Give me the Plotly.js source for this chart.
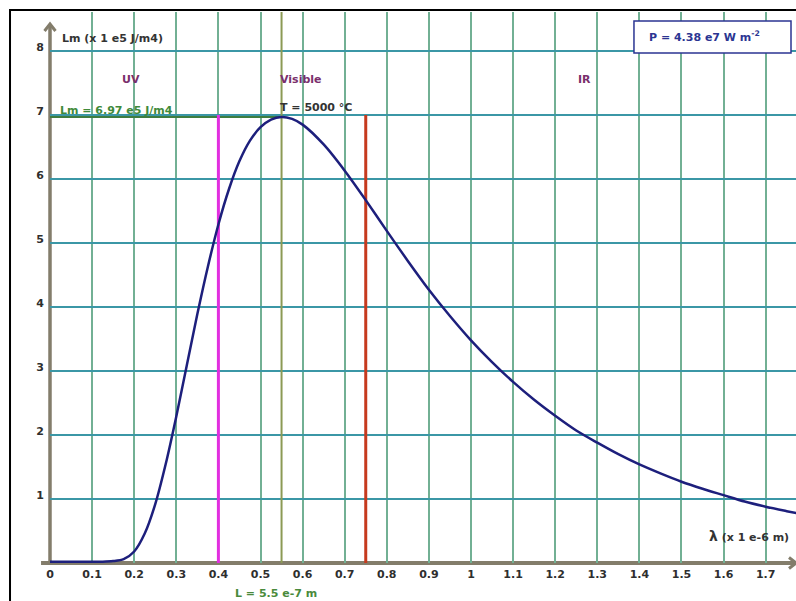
<!DOCTYPE html>
<html>
<head>
<meta charset="utf-8">
<script src="https://cdn.plot.ly/plotly-3.0.1.min.js"></script>
<style>html,body{margin:0;padding:0;background:#fff}#chart{width:796px;height:601px}</style>
</head>
<body>
<div id="chart"></div>
<script>
// Wavelength (x 1e-6 m) and spectral exitance Lm (x 1e5 J/m4)
const wavelength = [0, 0.05, 0.1, 0.125, 0.15, 0.175, 0.2, 0.225, 0.25, 0.275, 0.3, 0.325, 0.35, 0.375, 0.4, 0.425, 0.45, 0.475, 0.5, 0.525, 0.55, 0.575, 0.6, 0.65, 0.7, 0.75, 0.8, 0.85, 0.9, 0.95, 1.0, 1.05, 1.1, 1.15, 1.2, 1.25, 1.3, 1.35, 1.4, 1.45, 1.5, 1.55, 1.6, 1.65, 1.7, 1.75, 1.78];
const radiance   = [0.02, 0.02, 0.02, 0.02, 0.03, 0.06, 0.18, 0.46, 0.92, 1.55, 2.29, 3.09, 3.89, 4.63, 5.29, 5.84, 6.28, 6.60, 6.81, 6.93, 6.97, 6.94, 6.85, 6.54, 6.13, 5.67, 5.19, 4.72, 4.27, 3.86, 3.48, 3.14, 2.83, 2.55, 2.30, 2.07, 1.88, 1.70, 1.54, 1.40, 1.27, 1.16, 1.06, 0.96, 0.88, 0.81, 0.77];

// visible band edges
const bandEdges  = [0.4, 0.75];
const bandColors = ['#e22ee0', '#c63a1e'];
const bandTop    = 7;

// peak
const peakLambda = 0.55;
const peakValue  = 6.97;

// ticks
const xTicks      = [0, 0.1, 0.2, 0.3, 0.4, 0.5, 0.6, 0.7, 0.8, 0.9, 1, 1.1, 1.2, 1.3, 1.4, 1.5, 1.6, 1.7];
const xTickLabels = ['0', '0.1', '0.2', '0.3', '0.4', '0.5', '0.6', '0.7', '0.8', '0.9', '1', '1.1', '1.2', '1.3', '1.4', '1.5', '1.6', '1.7'];
const yTicks      = [1, 2, 3, 4, 5, 6, 7, 8];
const yTickLabels = ['1', '2', '3', '4', '5', '6', '7', '8'];

// region labels
const regionNames   = ['UV', 'Visible', 'IR'];
const regionCenters = [0.192, 0.597, 1.27];

const xMax = 1.772, yMax = 8.61, yArrowTip = 8.42;
const F = 'DejaVu Sans';
const axisColor = '#837d6b';

const traces = [];
// peak wavelength vertical line
traces.push({x: [peakLambda, peakLambda], y: [0, yMax], mode: 'lines',
  line: {color: '#8c9a55', width: 2}, hoverinfo: 'skip'});
// peak value horizontal line
traces.push({x: [0, peakLambda], y: [peakValue, peakValue], mode: 'lines',
  line: {color: '#3f7d3f', width: 2}, hoverinfo: 'skip'});
// band edges
bandEdges.forEach((e, i) => traces.push({x: [e, e], y: [0, bandTop], mode: 'lines',
  line: {color: bandColors[i], width: 3}, hoverinfo: 'skip'}));
// curve
traces.push({x: wavelength, y: radiance, mode: 'lines',
  line: {color: '#1d1f7c', width: 2.5, shape: 'spline', smoothing: 0.8}, hoverinfo: 'skip'});

const txt = (c, s) => ({family: F, size: s || 11, color: c, weight: 'bold'});

const annotations = [
  {x: 0.024, y: 8.2, xref: 'x', yref: 'y', xanchor: 'left', yanchor: 'middle', showarrow: false,
    text: 'Lm (x 1 e5 J/m4)', font: txt('#333333')},
  {x: 0.019, y: peakValue + 0.1, xref: 'x', yref: 'y', xanchor: 'left', yanchor: 'middle', showarrow: false,
    text: 'Lm = ' + peakValue + ' e5 J/m4', font: txt('#3f8a3a')},
  {x: 0.633, y: 7.12, xref: 'x', yref: 'y', xanchor: 'center', yanchor: 'middle', showarrow: false,
    text: 'T = 5000 °C', font: txt('#333333')},
  {x: 1.66, y: 0.42, xref: 'x', yref: 'y', xanchor: 'center', yanchor: 'middle', showarrow: false,
    text: '<span style="font-size:14px">λ</span> (x 1 e-6 m)', font: txt('#333333')},
  {x: 0.537, y: -0.055, xref: 'x', yref: 'paper', xanchor: 'center', yanchor: 'middle', showarrow: false,
    text: 'L = ' + peakLambda * 10 + ' e-7 m', font: txt('#4a8a3c')},
  {x: 0.877, y: 0.955, xref: 'paper', yref: 'paper', xanchor: 'center', yanchor: 'middle', showarrow: false,
    text: 'P = 4.38 e7 W m<sup>-2</sup>', font: txt('#2b3592')}
];
regionNames.forEach((n, i) => annotations.push({x: regionCenters[i], y: 7.55, xref: 'x', yref: 'y',
  showarrow: false, text: n, font: txt('#7a2f6c')}));

// pixel -> paper helpers for the decorative frame/arrows
const px = p => (p - 50) / 746;
const py = p => (563 - p) / 551;

const shapes = [
  // y axis line
  {type: 'line', xref: 'paper', yref: 'paper', x0: 0, x1: 0, y0: 0, y1: yArrowTip / yMax,
    line: {color: axisColor, width: 3.5}, layer: 'between'},
  // y axis arrowhead
  {type: 'path', xref: 'paper', yref: 'paper',
    path: `M ${px(44.5)} ${py(31)} L ${px(50)} ${py(24)} L ${px(55.5)} ${py(31)}`,
    line: {color: axisColor, width: 3}, layer: 'between'},
  // x axis line
  {type: 'line', xref: 'paper', yref: 'paper', x0: -0.012, x1: 1, y0: 0, y1: 0,
    line: {color: axisColor, width: 4}, layer: 'between'},
  // x axis arrowhead
  {type: 'path', xref: 'paper', yref: 'paper',
    path: `M ${px(789)} ${py(557.5)} L ${px(796)} ${py(563)} L ${px(789)} ${py(568.5)}`,
    line: {color: axisColor, width: 3}, layer: 'between'},
  // power box
  {type: 'rect', xref: 'paper', yref: 'paper', x0: 0.7828, x1: 0.9933, y0: 0.9256, y1: 0.9837,
    fillcolor: '#ffffff', line: {color: '#2b3592', width: 1.5}, layer: 'above'},
  // outer frame
  {type: 'rect', xref: 'paper', yref: 'paper', x0: -0.0536, x1: 1.1, y0: -0.2, y1: 1.0036,
    line: {color: '#000000', width: 2}, layer: 'above'}
];

const layout = {
  width: 796, height: 601,
  margin: {l: 50, r: 0, t: 12, b: 38, pad: 0},
  paper_bgcolor: '#ffffff', plot_bgcolor: '#ffffff',
  showlegend: false, hovermode: false,
  xaxis: {range: [0, xMax], tickvals: xTicks, ticktext: xTickLabels, showgrid: true,
    gridcolor: '#72b094', gridwidth: 2, zeroline: false, showline: false, ticks: '',
    ticklabelstandoff: 3, tickfont: txt('#2e2e2e', 11), fixedrange: true, automargin: false},
  yaxis: {range: [0, yMax], tickvals: yTicks, ticktext: yTickLabels, showgrid: true,
    gridcolor: '#3b97a6', gridwidth: 2, zeroline: false, showline: false, ticks: '',
    ticklabelshift: -4, ticklabelstandoff: 5, tickfont: txt('#2e2e2e', 11), fixedrange: true, automargin: false},
  annotations: annotations,
  shapes: shapes
};

Plotly.newPlot('chart', traces, layout, {displayModeBar: false, staticPlot: true});
</script>
</body>
</html>
